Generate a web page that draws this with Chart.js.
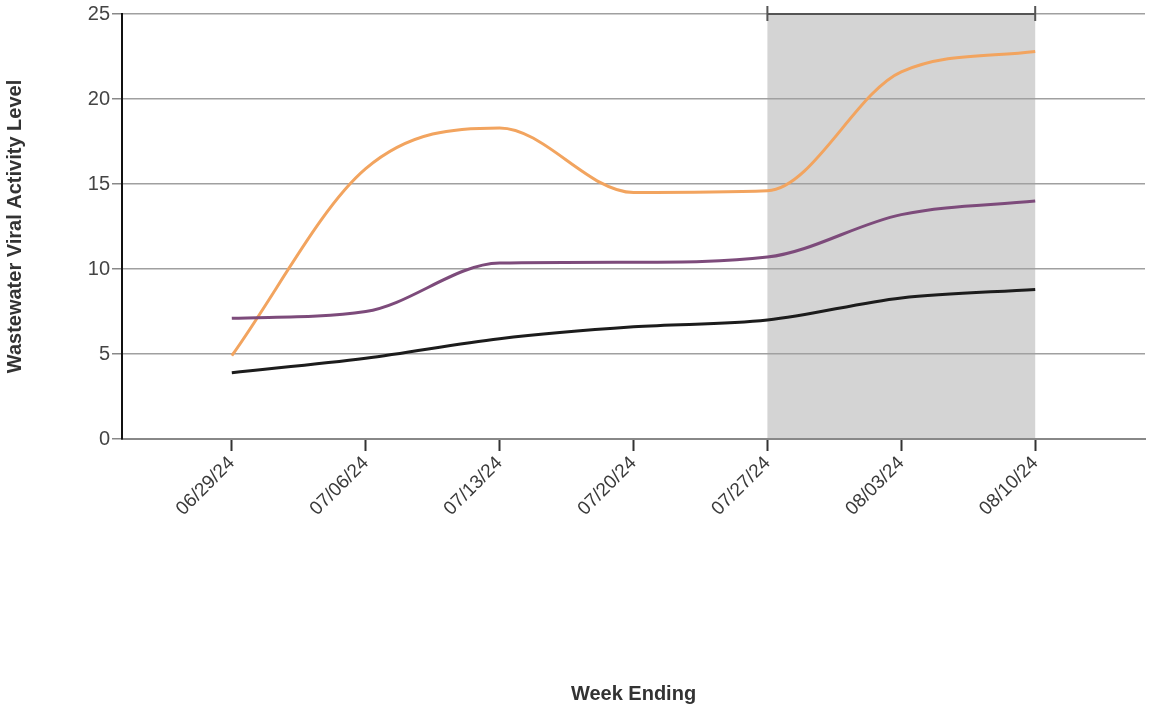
<!DOCTYPE html>
<html>
<head>
<meta charset="utf-8">
<script src="https://cdn.jsdelivr.net/npm/chart.js@4/dist/chart.umd.min.js"></script>
<style>
  html, body { margin: 0; padding: 0; background: #fff; }
  #wrap { width: 1152px; height: 706px; }
</style>
</head>
<body>
<div id="wrap"><canvas id="grafiek"></canvas></div>
<script>
// weken en waarden
const weken = ['06/29/24', '07/06/24', '07/13/24', '07/20/24', '07/27/24', '08/03/24', '08/10/24'];
const oranje = [4.9, 15.9, 18.3, 14.5, 14.6, 21.6, 22.8];
const paars = [7.1, 7.5, 10.35, 10.4, 10.7, 13.2, 14.0];
const zwart = [3.9, 4.75, 5.9, 6.6, 7.0, 8.3, 8.8];
const yTicks = [0, 5, 10, 15, 20, 25];
// gemarkeerde periode (index in weken)
const markeerVan = 4;
const markeerTot = 6;

const punten = arr => arr.map((v, i) => ({ x: i, y: v }));

// grijze band + haak bovenaan
const bandPlugin = {
  id: 'band',
  beforeDraw(chart) {
    const { ctx, chartArea, scales } = chart;
    const x1 = scales.x.getPixelForValue(markeerVan);
    const x2 = scales.x.getPixelForValue(markeerTot);
    ctx.save();
    ctx.fillStyle = '#d4d4d4';
    ctx.fillRect(x1, chartArea.top, x2 - x1, chartArea.bottom - chartArea.top);
    ctx.restore();
  },
  afterDatasetsDraw(chart) {
    const { ctx, chartArea, scales } = chart;
    const x1 = scales.x.getPixelForValue(markeerVan);
    const x2 = scales.x.getPixelForValue(markeerTot);
    const y = chartArea.top;
    ctx.save();
    ctx.strokeStyle = '#555';
    ctx.lineWidth = 2;
    ctx.beginPath();
    ctx.moveTo(x1, y);
    ctx.lineTo(x2, y);
    ctx.moveTo(x1, y - 8);
    ctx.lineTo(x1, y + 7);
    ctx.moveTo(x2, y - 8);
    ctx.lineTo(x2, y + 7);
    ctx.stroke();
    ctx.restore();
  }
};

const lijn = (data, kleur) => ({
  data: punten(data),
  borderColor: kleur,
  borderWidth: 3,
  pointRadius: 0,
  fill: false,
  cubicInterpolationMode: 'monotone'
});

const font = 'Liberation Sans, Arial, sans-serif';

new Chart(document.getElementById('grafiek'), {
  type: 'line',
  data: {
    datasets: [
      lijn(zwart, '#1c1c1c'),
      lijn(paars, '#7d4b7b'),
      lijn(oranje, '#f2a45f')
    ]
  },
  options: {
    responsive: true,
    maintainAspectRatio: false,
    animation: false,
    events: [],
    layout: { padding: { top: 14, right: 7, left: 0, bottom: 0 } },
    plugins: { legend: { display: false }, tooltip: { enabled: false } },
    scales: {
      x: {
        type: 'linear',
        min: -0.82,
        max: 6.82,
        afterBuildTicks: s => { s.ticks = weken.map((w, i) => ({ value: i })); },
        afterFit: s => { s.height = 267; },
        ticks: {
          autoSkip: false,
          minRotation: 45,
          maxRotation: 45,
          padding: 1,
          color: '#3a3a3a',
          font: { family: font, size: 19 },
          callback: v => weken[v]
        },
        grid: { drawOnChartArea: false, tickLength: 12, tickColor: '#333', tickWidth: 2 },
        border: { color: '#888', width: 2 },
        title: {
          display: true,
          text: 'Week Ending',
          color: '#333',
          font: { family: font, size: 20, weight: 'bold' },
          padding: { top: 0, bottom: 0 }
        }
      },
      y: {
        min: 0,
        max: 25,
        afterBuildTicks: s => { s.ticks = yTicks.map(v => ({ value: v })); },
        afterFit: s => { s.width = 122; },
        ticks: {
          padding: 2,
          color: '#444',
          font: { family: font, size: 20 }
        },
        grid: { color: '#a0a0a0', lineWidth: 1.5, tickLength: 10, tickColor: '#888' },
        border: { color: '#111', width: 2 },
        title: {
          display: true,
          text: 'Wastewater Viral Activity Level',
          color: '#333',
          font: { family: font, size: 20, weight: 'bold' },
          padding: { top: 3, bottom: 0 }
        }
      }
    }
  },
  plugins: [bandPlugin]
});
</script>
</body>
</html>
